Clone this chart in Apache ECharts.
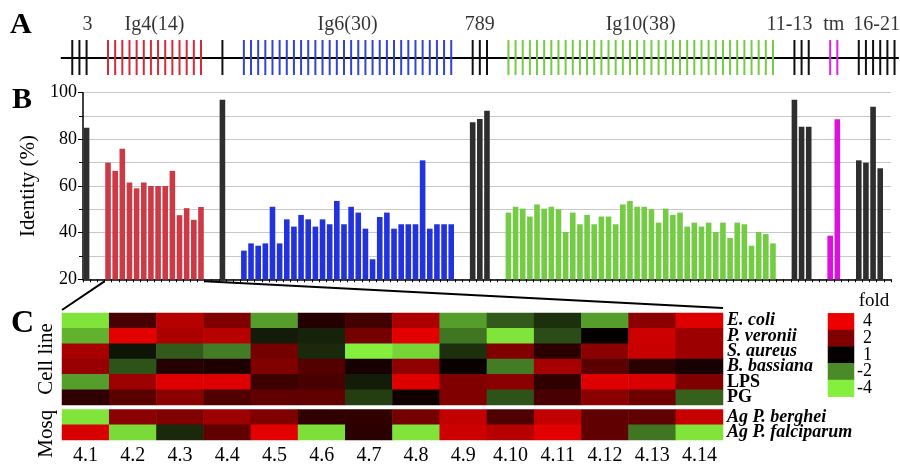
<!DOCTYPE html>
<html><head><meta charset="utf-8">
<script src="https://cdn.jsdelivr.net/npm/echarts@6/dist/echarts.min.js"></script>
<style>html,body{margin:0;padding:0;background:#fff}#c{width:900px;height:466px}</style>
</head><body><div id="c"></div>
<script>
// ---------- DATA ----------
const domainNames = ['3', 'Ig4(14)', '', 'Ig6(30)', '789', 'Ig10(38)', '11-13', 'tm', '16-21'];
const domainKinds = ['other', 'ig4', 'other', 'ig6', 'other', 'ig10', 'other', 'tm', 'other'];
const domainFirstSlot = [-2, 3, 19, 22, 54, 59, 99, 104, 108];
const identity3 = [null, null, 85];
const identityIg4 = [70, 66.5, 76, 61.5, 59, 61.5, 60, 60, 60, 66.5, 47.5, 50.5, 45.5, 51];
const identitySingle = [97];
const identityIg6 = [32.3, 35.4, 34.4, 35.4, 51.1, 35.4, 45.7, 42.6, 47.6, 45.7, 42.6, 45.7, 43.6, 53.6, 43.6,
  51.1, 48.6, 41.7, 28.6, 46.7, 48.6, 41.7, 43.6, 43.6, 43.6, 71, 41.7, 43.6, 43.6, 43.6];
const identity789 = [87.3, 88.7, 92.3];
const identityIg10 = [48.6, 51.1, 50.3, 46.9, 52.1, 50.3, 51.1, 50, 40.3, 48.6, 43.6, 47.6, 43.6, 46.9, 46.9,
  43.6, 52.1, 53.6, 51.1, 51.1, 50, 44.3, 50.3, 47.6, 48.6, 42.6, 44.3, 42.6, 44.3, 40.3, 44.3, 37.7, 44.3,
  43.6, 34.4, 40.3, 39.4, 35.4];
const identity11to13 = [97, 85.4, 85.4];
const identityTm = [38.7, 88.6];
const identity16to21 = [71, 70, 94, 67.6, null, null];
const domainIdentity = [identity3, identityIg4, identitySingle, identityIg6, identity789, identityIg10,
  identity11to13, identityTm, identity16to21];
const slotCount = 113;
const identityTicks = [20, 40, 60, 80, 100];

const heatColumns = ['4.1','4.2','4.3','4.4','4.5','4.6','4.7','4.8','4.9','4.10','4.11','4.12','4.13','4.14'];
const cellRows = ['E. coli', 'P. veronii', 'S. aureus', 'B. bassiana', 'LPS', 'PG'];
const mosqRows = ['Ag P. berghei', 'Ag P. falciparum'];
// signed log2 fold values (4 -> 2, 2 -> 1, 1 -> 0, -2 -> -1, -4 -> -2)
const ecoli     = [-1.9, 0.55, 1.5, 1.0, -1.2, 0.25, 0.5, 1.4, -1.2, -0.65, -0.35, -1.2, 1.1, 1.85];
const pveronii  = [-1.4, 1.9, 1.4, 1.5, -0.2, -0.25, 0.9, 1.9, -0.85, -1.9, -0.55, 0, 1.7, 1.25];
const saureus   = [1.35, -0.15, -0.65, -0.9, 0.9, -0.3, -2, -1.75, -0.35, 1.0, 0.3, 1.1, 1.65, 1.25];
const bbassiana = [1.2, -0.6, 0.25, 0.2, 1.0, 0.65, 0.15, 1.15, 0.05, -0.9, 1.35, 0.7, 0.3, 0.15];
const lps       = [-1.2, 1.25, 1.85, 1.85, 0.45, 0.55, -0.2, 1.85, 1.0, 1.1, 0.35, 1.85, 1.8, 1.0];
const pg        = [0.35, 0.7, 1.1, 0.6, 0.75, 0.75, -0.45, 0.1, 1.0, -0.6, 0.55, 1.1, 0.85, -0.7];
const berghei   = [-1.9, 1.1, 1.0, 1.25, 1.0, 0.35, 0.35, 0.9, 1.6, 0.6, 1.6, 0.75, 0.75, 1.65];
const falciparum= [1.8, -1.8, -0.3, 0.75, 1.9, -1.85, 0.3, -1.9, 1.7, 1.5, 1.9, 0.75, -0.85, -1.9];
const cellValues = [ecoli, pveronii, saureus, bbassiana, lps, pg];
const mosqValues = [berghei, falciparum];
const foldLevels = [4, 2, 1, -2, -4];

// ---------- STYLE / LAYOUT ----------
const FONT = 'Liberation Serif';
const kindColor = { other: '#2e2e2e', ig4: '#cc3a46', ig6: '#2233dd', ig10: '#74cc44', tm: '#dd11dd' };
const tickColor = { other: '#111111', ig4: '#d42a3a', ig6: '#3344d4', ig10: '#74cc44', tm: '#e022e0' };
const kindList = ['other', 'ig4', 'ig6', 'ig10', 'tm'];
const labelOffset = { '3': 8, '11-13': -12 };
const slotW = 7.15;
const bLeft = 83, bTop = 92.7, bHeight = 186.6;
const aTop = 40, aHeight = 35;
const hLeft = 62, hWidth = 661, hCellTop = 313, hCellH = 92, hMosqTop = 409.5, hMosqH = 32.5;
const lgLeft = 828, lgTop = 313.3, lgW = 26, lgH = 83.4;
const toLog = f => f > 0 ? Math.log2(f) : -Math.log2(-f);

// ---------- BUILD ----------
const exonData = [], labelData = [];
const barData = new Array(slotCount).fill(null);
domainNames.forEach((name, d) => {
  const vals = domainIdentity[d];
  const kind = domainKinds[d];
  vals.forEach((v, k) => {
    const slot = domainFirstSlot[d] + k;
    exonData.push([slot, kindList.indexOf(kind)]);
    if (v != null && slot >= 0 && slot < slotCount) {
      barData[slot] = { value: v, itemStyle: { color: kindColor[kind] } };
    }
  });
  if (name) {
    const center = domainFirstSlot[d] + (vals.length - 1) / 2;
    labelData.push({ value: [center, 1], name: name,
      label: { offset: [labelOffset[name] || 0, 0] } });
  }
});
const slotCats = Array.from({ length: slotCount }, (_, i) => String(i));
const heatCell = [], heatMosq = [];
cellValues.forEach((row, r) => row.forEach((v, c) => heatCell.push([c, r, v])));
mosqValues.forEach((row, r) => row.forEach((v, c) => heatMosq.push([c, r, v])));
const legendData = foldLevels.map((f, i) => [0, i, toLog(f)]);

const italicRow = name => !(name === 'LPS' || name === 'PG');
const rowFormatter = v => italicRow(v) ? '{i|' + v + '}' : '{n|' + v + '}';
const rowRich = {
  i: { fontFamily: FONT, fontSize: 18, fontStyle: 'italic', fontWeight: 'bold', color: '#000' },
  n: { fontFamily: FONT, fontSize: 18, fontWeight: 'bold', color: '#000' }
};

const chart = echarts.init(document.getElementById('c'), null, { renderer: 'canvas' });
const option = {
  animation: false,
  textStyle: { fontFamily: FONT, color: '#000' },
  grid: [
    { left: bLeft - 3 * slotW, top: aTop, width: 117 * slotW, height: aHeight },
    { left: bLeft, top: bTop, width: slotCount * slotW, height: bHeight },
    { left: hLeft, top: hCellTop, width: hWidth, height: hCellH },
    { left: hLeft, top: hMosqTop, width: hWidth, height: hMosqH },
    { left: lgLeft, top: lgTop, width: lgW, height: lgH }
  ],
  xAxis: [
    { gridIndex: 0, type: 'value', min: -3.5, max: 113.5,
      axisLine: { show: true, onZero: true, lineStyle: { color: '#000', width: 2 } },
      axisTick: { show: false }, axisLabel: { show: false }, splitLine: { show: false } },
    { gridIndex: 1, type: 'category', data: slotCats,
      axisLine: { lineStyle: { color: '#000', width: 1.5 } },
      axisTick: { show: true, interval: 0, length: 3, lineStyle: { color: '#000' } },
      axisLabel: { show: false } },
    { gridIndex: 2, type: 'category', data: heatColumns, show: false },
    { gridIndex: 3, type: 'category', data: heatColumns,
      axisLine: { show: false }, axisTick: { show: false },
      axisLabel: { interval: 0, fontFamily: FONT, fontSize: 20, color: '#000', margin: 6 } },
    { gridIndex: 4, type: 'category', data: ['fold'], show: false }
  ],
  yAxis: [
    { gridIndex: 0, type: 'value', min: -1, max: 1, show: false },
    { gridIndex: 1, type: 'value', min: 20, max: 100, interval: 20,
      name: 'Identity (%)', nameLocation: 'middle', nameGap: 30,
      nameTextStyle: { fontFamily: FONT, fontSize: 21, color: '#000' },
      axisLine: { show: true, lineStyle: { color: '#000', width: 1.5 } },
      axisTick: { show: true, length: 5, lineStyle: { color: '#000' } },
      minorTick: { show: true, splitNumber: 2, length: 4, lineStyle: { color: '#000' } },
      splitLine: { show: true, lineStyle: { color: '#c8c8c8', width: 1 } },
      minorSplitLine: { show: true, lineStyle: { color: '#c8c8c8', width: 1 } },
      axisLabel: { fontFamily: FONT, fontSize: 18, color: '#000', margin: 6,
        formatter: v => identityTicks.includes(v) ? String(v) : '' } },
    { gridIndex: 2, type: 'category', data: cellRows, inverse: true, position: 'right',
      axisLine: { show: false }, axisTick: { show: false },
      axisLabel: { interval: 0, margin: 4, formatter: rowFormatter, rich: rowRich } },
    { gridIndex: 3, type: 'category', data: mosqRows, inverse: true, position: 'right',
      axisLine: { show: false }, axisTick: { show: false },
      axisLabel: { interval: 0, margin: 4, formatter: rowFormatter, rich: rowRich } },
    { gridIndex: 4, type: 'category', data: foldLevels.map(String), inverse: true, position: 'right',
      axisLine: { show: false }, axisTick: { show: false },
      axisLabel: { interval: 0, fontFamily: FONT, fontSize: 18, color: '#000', align: 'right', margin: 18 } }
  ],
  visualMap: {
    show: false, type: 'continuous', min: -2, max: 2, dimension: 2, seriesIndex: [3, 4, 5],
    inRange: { color: ['#86ee3c', '#4a8a28', '#050000', '#800000', '#ee0000'] }
  },
  series: [
    { type: 'custom', xAxisIndex: 0, yAxisIndex: 0, data: exonData, silent: true,
      renderItem: (params, api) => {
        const x = api.coord([api.value(0), 0])[0];
        const y1 = api.coord([0, 1])[1], y2 = api.coord([0, -1])[1];
        return { type: 'line', shape: { x1: x, y1: y1, x2: x, y2: y2 },
          style: { stroke: tickColor[kindList[api.value(1)]], lineWidth: 2 } };
      } },
    { type: 'scatter', xAxisIndex: 0, yAxisIndex: 0, data: labelData, symbolSize: 0, silent: true,
      label: { show: true, position: 'top', distance: 5, formatter: p => p.name,
        fontFamily: FONT, fontSize: 20, color: '#000' } },
    { type: 'bar', xAxisIndex: 1, yAxisIndex: 1, data: barData, barWidth: 5.6, silent: true },
    { type: 'heatmap', xAxisIndex: 2, yAxisIndex: 2, data: heatCell, silent: true,
      emphasis: { disabled: true } },
    { type: 'heatmap', xAxisIndex: 3, yAxisIndex: 3, data: heatMosq, silent: true,
      emphasis: { disabled: true } },
    { type: 'heatmap', xAxisIndex: 4, yAxisIndex: 4, data: legendData, silent: true,
      emphasis: { disabled: true } }
  ]
};
chart.setOption(option);

// decorations: panel letters, side titles, zoom lines from Ig4 group to heatmap
const ig4 = domainNames.indexOf('Ig4(14)');
const ig4StartSlot = domainFirstSlot[ig4], ig4EndSlot = ig4StartSlot + domainIdentity[ig4].length - 1;
const pxStart = chart.convertToPixel({ xAxisIndex: 1, yAxisIndex: 1 }, [ig4StartSlot, 20]);
const pxEnd = chart.convertToPixel({ xAxisIndex: 1, yAxisIndex: 1 }, [ig4EndSlot, 20]);
chart.setOption({
  graphic: [
    { type: 'text', left: 10, top: 10, style: { text: 'A', font: 'bold 30px "Liberation Serif"', fill: '#000' } },
    { type: 'text', left: 12, top: 85, style: { text: 'B', font: 'bold 30px "Liberation Serif"', fill: '#000' } },
    { type: 'text', left: 11, top: 308, style: { text: 'C', font: 'bold 32px "Liberation Serif"', fill: '#000' } },
    { type: 'text', x: 46, y: hCellTop + hCellH / 2, rotation: Math.PI / 2,
      style: { text: 'Cell line', font: '21px "Liberation Serif"', fill: '#000', align: 'center', verticalAlign: 'middle' } },
    { type: 'text', x: 46, y: hMosqTop + hMosqH / 2 + 8, rotation: Math.PI / 2,
      style: { text: 'Mosq', font: '21px "Liberation Serif"', fill: '#000', align: 'center', verticalAlign: 'middle' } },
    { type: 'text', x: lgLeft + lgW + 20, y: 301,
      style: { text: 'fold', font: '19px "Liberation Serif"', fill: '#000', align: 'center', verticalAlign: 'middle' } },
    { type: 'line', shape: { x1: pxStart[0] - slotW / 2, y1: pxStart[1] + 2, x2: hLeft, y2: hCellTop - 3 },
      style: { stroke: '#000', lineWidth: 2 } },
    { type: 'line', shape: { x1: pxEnd[0] + slotW / 2, y1: pxEnd[1] + 2, x2: hLeft + hWidth, y2: hCellTop - 5 },
      style: { stroke: '#000', lineWidth: 2 } }
  ]
});
</script></body></html>
